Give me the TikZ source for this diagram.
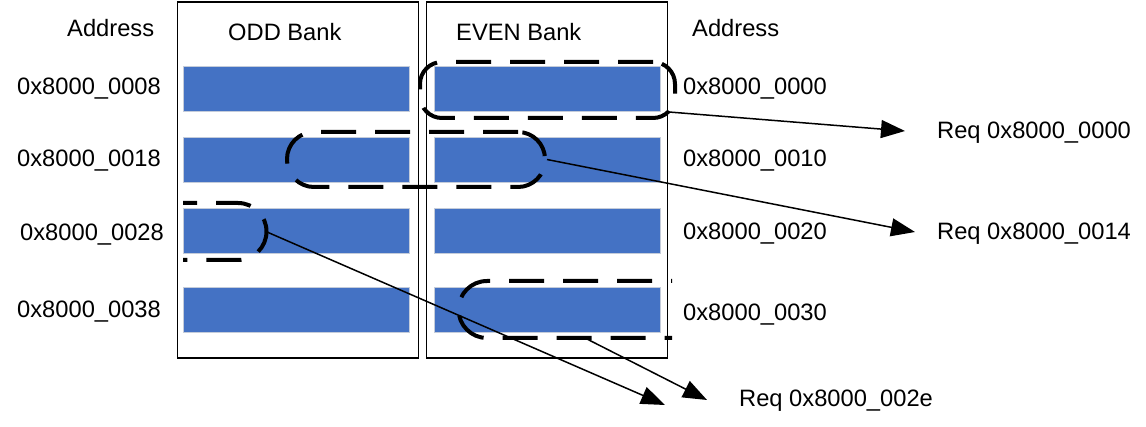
\documentclass[tikz,border=0pt]{standalone}
\usepackage{fontspec}
\setmainfont{Liberation Sans}
\usetikzlibrary{arrows.meta}
\definecolor{barblue}{RGB}{68,114,196}
\definecolor{barline}{RGB}{196,204,218}

\begin{document}
\begin{tikzpicture}[x=1pt,y=-1pt,>={Triangle[length=24pt,width=18pt]},
    txt/.style={anchor=base west,inner sep=0pt,font=\fontsize{23.7}{28}\selectfont},
    bank/.style={draw=black,line width=1.5pt,minimum width=241pt,minimum height=356pt,inner sep=0pt},
    bar/.style={fill=barblue,draw=barline,line width=1pt,minimum width=226pt,minimum height=45pt,inner sep=0pt},
    grp/.style={draw=black,line width=4pt,dash pattern=on 35pt off 19pt},
    req/.style={line width=1.5pt}]
    \useasboundingbox (0,0) rectangle (1146,427);
    \node[bank] (odd) at (297.75,180) {};
    \node[bank] (even) at (546.75,180) {};
    \node[bar] (odd0) at (296.5,89) {};
    \node[bar] (odd1) at (296.5,160.5) {};
    \node[bar] (odd2) at (296.5,231) {};
    \node[bar] (odd3) at (296.5,310.5) {};
    \node[bar] (even0) at (547,89) {};
    \node[bar] (even1) at (547,160.5) {};
    \node[bar] (even2) at (547,231) {};
    \node[bar] (even3) at (547,310.5) {};
    \node[txt] (addrl) at (67,36.7) {Address};
    \node[txt] (oddname) at (228,40.7) {ODD Bank};
    \node[txt] (evenname) at (456,40.7) {EVEN Bank};
    \node[txt] (addrr) at (692,36.2) {Address};
    \node[txt] (a08) at (17,95) {0x8000\_0008};
    \node[txt] (a18) at (17,167) {0x8000\_0018};
    \node[txt] (a28) at (20,240.5) {0x8000\_0028};
    \node[txt] (a38) at (17,318) {0x8000\_0038};
    \node[txt] (a00) at (683,95) {0x8000\_0000};
    \node[txt] (a10) at (683,167) {0x8000\_0010};
    \node[txt] (a20) at (683,239.3) {0x8000\_0020};
    \node[txt] (a30) at (683,321) {0x8000\_0030};
    \node[txt] (req0) at (937,139) {Req 0x8000\_0000};
    \node[txt] (req14) at (937,239.3) {Req 0x8000\_0014};
    \node[txt] (req2e) at (739,406.7) {Req 0x8000\_002e};
    \node[grp,rounded corners=22pt,minimum width=255pt,minimum height=56pt] (grp0) at (547.5,90) {};
    \node[grp,rounded corners=27pt,minimum width=258pt,minimum height=55pt] (grp1) at (416,159.5) {};
    \draw[grp,dash phase=21pt] (183,203) -- (238,203) arc[start angle=-90,end angle=90,radius=28.5] -- (183,260);
    \draw[grp,dash phase=34pt] (672,281) -- (487,281) arc[start angle=-90,end angle=-270,radius=28.5] -- (672,338);
    \coordinate (grp2) at (267,232);
    \coordinate (grp3) at (585,338);
    \coordinate (tip0) at (905,131);
    \coordinate (tip1) at (915,232);
    \coordinate (tip2) at (665,405);
    \coordinate (tip3) at (707,400);
    \path[req,->] ([shift={(-8,-8)}]grp0.south east) edge node {} (tip0);
    \path[req,->] (grp1.east) edge node {} (tip1);
    \path[req,->] (grp2) edge node {} (tip2);
    \path[req,->] (grp3) edge node {} (tip3);
\end{tikzpicture}
\end{document}
